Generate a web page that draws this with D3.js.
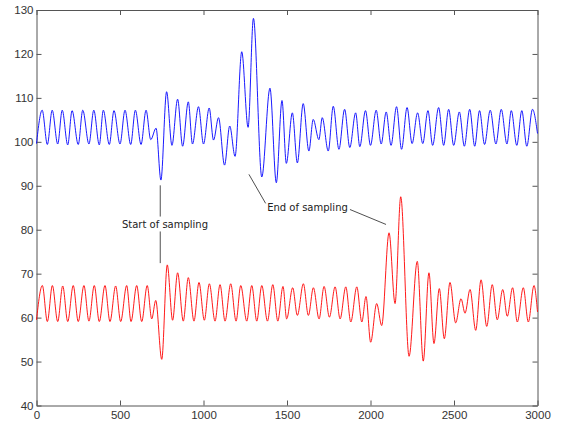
<!DOCTYPE html>
<html lang="en">
<head>
<meta charset="utf-8">
<title>Sampling</title>
<script src="https://d3js.org/d3.v7.min.js"></script>
<style>
  body { margin: 0; background: #fff; }
  svg { display: block; }
  .tick text { font-family: "Liberation Sans", Arial, sans-serif; font-size: 11.5px; fill: #333; }
  .axis path, .axis line { stroke: #555; }
  .note { font-family: "DejaVu Sans", sans-serif; font-size: 10px; fill: #222; }
</style>
</head>
<body>
<svg width="567" height="423"></svg>
<script>
// peaks and troughs (sample index, value)
const blueX = [0, 34, 65, 94, 127, 154, 187, 213, 250, 277, 314, 343, 376, 400, 436, 464, 500, 530, 564, 592,
  626, 656, 684, 716, 745, 779, 811, 845, 875, 909, 934, 970, 1000, 1034, 1060, 1090, 1126, 1157, 1189, 1229,
  1267, 1299, 1349, 1398, 1436, 1470, 1496, 1532, 1562, 1597, 1631, 1657, 1691, 1711, 1747, 1777, 1811, 1845,
  1876, 1911, 1936, 1970, 2000, 2034, 2064, 2094, 2123, 2156, 2186, 2219, 2249, 2282, 2313, 2344, 2372, 2408,
  2438, 2468, 2498, 2532, 2562, 2594, 2624, 2653, 2683, 2717, 2751, 2783, 2817, 2843, 2876, 2906, 2936, 2970, 3000];
const blueY = [99.6, 107.2, 99.4, 107.2, 99.5, 107.2, 99.3, 107.1, 99.4, 107.2, 99.5, 107.2, 99.3, 107.2, 99.4, 107.1, 99.5, 107.2, 99.4, 107.2,
  99.4, 107.2, 100.5, 103.1, 91.3, 111.4, 99.2, 109.7, 99.0, 109.1, 99.5, 108.0, 99.5, 107.7, 100.4, 105.5, 94.7, 103.6, 96.7, 120.5,
  103.3, 128.1, 92.0, 112.2, 90.7, 109.4, 95.1, 106.6, 95.2, 108.7, 97.9, 105.1, 100.5, 105.5, 97.9, 108.1, 98.3, 107.4,
  98.7, 106.6, 98.9, 107.1, 99.2, 107.2, 99.5, 106.8, 99.2, 108.0, 98.3, 107.8, 99.6, 106.6, 99.6, 107.1, 99.2, 107.8,
  99.2, 107.4, 99.2, 106.8, 99.0, 107.4, 99.0, 107.1, 99.4, 107.2, 99.5, 107.4, 99.5, 107.1, 99.2, 107.1, 99.0, 107.4, 101.9];

const redX = [0, 35, 65, 95, 127, 157, 187, 220, 250, 284, 314, 346, 376, 410, 440, 474, 504, 540, 566, 600,
  630, 663, 690, 714, 750, 783, 815, 845, 879, 909, 943, 973, 1005, 1035, 1069, 1099, 1129, 1163, 1195, 1223,
  1259, 1289, 1319, 1349, 1383, 1415, 1445, 1476, 1498, 1534, 1562, 1598, 1628, 1658, 1692, 1722, 1754, 1788,
  1818, 1852, 1882, 1918, 1948, 1973, 2001, 2037, 2067, 2111, 2147, 2181, 2231, 2280, 2316, 2350, 2380, 2412,
  2442, 2476, 2510, 2542, 2566, 2596, 2630, 2662, 2696, 2729, 2759, 2792, 2819, 2851, 2879, 2915, 2945, 2979, 3000];
const redY = [59.5, 67.3, 59.1, 67.3, 59.1, 67.2, 59.1, 67.3, 59.1, 67.3, 59.2, 67.3, 59.1, 67.3, 59.1, 67.2, 59.1, 67.3, 59.1, 67.3,
  59.1, 67.3, 59.7, 63.9, 50.5, 72.0, 59.4, 70.2, 59.2, 69.1, 59.2, 68.0, 59.4, 67.7, 59.2, 67.5, 59.2, 67.7, 59.2, 67.3,
  59.2, 67.3, 59.2, 67.3, 59.2, 67.5, 59.2, 67.1, 59.7, 66.8, 60.5, 67.7, 60.5, 66.8, 59.7, 67.1, 60.1, 67.0,
  59.7, 67.0, 59.0, 67.0, 59.0, 64.8, 54.4, 63.2, 58.2, 79.3, 63.2, 87.5, 51.2, 72.8, 50.1, 70.2, 54.1, 66.6,
  55.2, 68.0, 58.8, 64.3, 61.0, 66.4, 57.1, 68.6, 58.0, 67.5, 59.5, 66.4, 60.3, 66.8, 59.0, 66.8, 59.0, 67.3, 61.3];

const xTicks = [0, 500, 1000, 1500, 2000, 2500, 3000];
const yTicks = [40, 50, 60, 70, 80, 90, 100, 110, 120, 130];

const svg = d3.select("svg");
const padL = 36.5, padR = 537.5, padT = 10, padB = 405.5;

const x = d3.scaleLinear().domain([0, 3000]).range([padL, padR]);
const y = d3.scaleLinear().domain([40, 130]).range([padB, padT]);
const fmt = d3.format("d");

// box + inward ticks on all four sides
svg.append("g").attr("class", "axis").attr("transform", `translate(0,${padB})`)
  .call(d3.axisBottom(x).tickValues(xTicks).tickFormat(fmt).tickSizeInner(-5).tickSizeOuter(0).tickPadding(5));
svg.append("g").attr("class", "axis").attr("transform", `translate(0,${padT})`)
  .call(d3.axisTop(x).tickValues(xTicks).tickSizeInner(-5).tickSizeOuter(0).tickFormat(""));
svg.append("g").attr("class", "axis").attr("transform", `translate(${padL},0)`)
  .call(d3.axisLeft(y).tickValues(yTicks).tickFormat(fmt).tickSizeInner(-5).tickSizeOuter(0).tickPadding(3));
svg.append("g").attr("class", "axis").attr("transform", `translate(${padR},0)`)
  .call(d3.axisRight(y).tickValues(yTicks).tickSizeInner(-5).tickSizeOuter(0).tickFormat(""));

const line = d3.line().curve(d3.curveMonotoneX);

function drawSeries(xs, ys, color) {
  svg.append("path")
    .attr("d", line(xs.map((v, i) => [x(v), y(ys[i])])))
    .attr("fill", "none")
    .attr("stroke", color)
    .attr("stroke-width", 0.9);
}
drawSeries(blueX, blueY, "#0000ff");
drawSeries(redX, redY, "#ff0000");

// annotations
const ann = svg.append("g").attr("stroke", "#222").attr("stroke-width", 0.8);
ann.append("line").attr("x1", x(741)).attr("x2", x(741)).attr("y1", y(90.1)).attr("y2", y(83.0));
ann.append("line").attr("x1", x(741)).attr("x2", x(741)).attr("y1", y(79.6)).attr("y2", y(72.4));
ann.append("line").attr("x1", x(1272)).attr("x2", x(1372)).attr("y1", y(92.6)).attr("y2", y(86.0));
ann.append("line").attr("x1", x(1877)).attr("x2", x(2093)).attr("y1", y(84.6)).attr("y2", y(81.2));

svg.append("text").attr("class", "note")
  .attr("x", 165).attr("y", 227.5).attr("text-anchor", "middle").text("Start of sampling");
svg.append("text").attr("class", "note")
  .attr("x", 307.5).attr("y", 210.5).attr("text-anchor", "middle").text("End of sampling");
</script>
</body>
</html>
